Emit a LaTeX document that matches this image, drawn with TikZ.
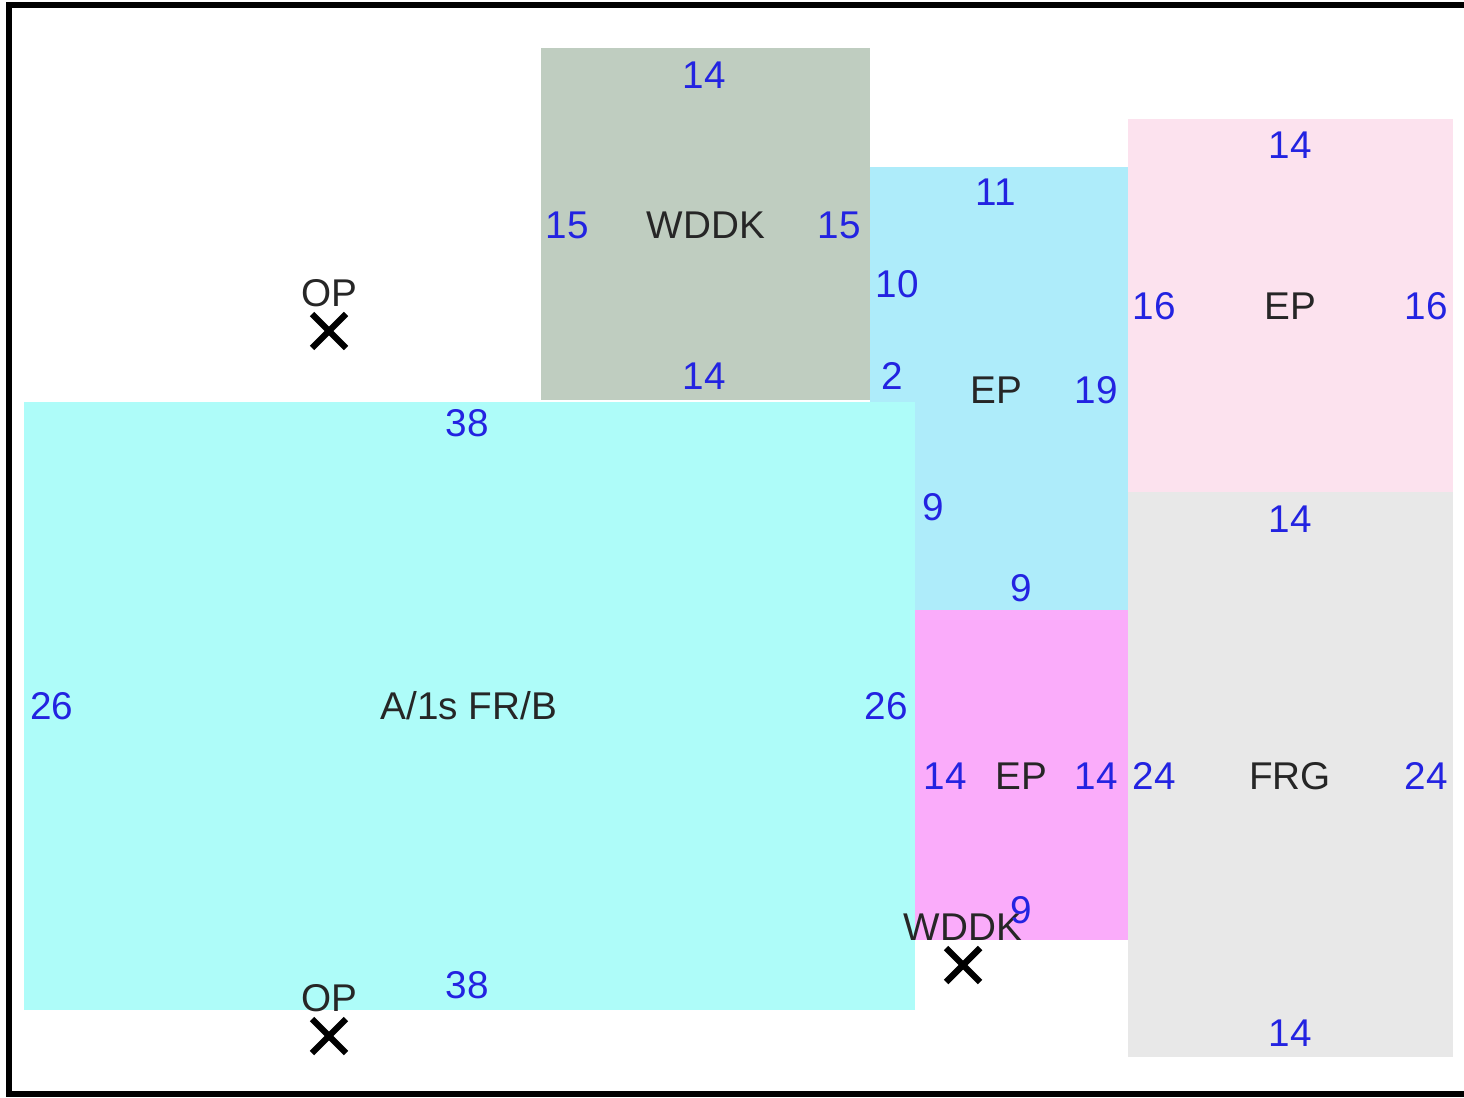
\documentclass[tikz,border=0pt]{standalone}
\usepackage{fontspec}
\setmainfont{Liberation Sans}
\usepackage{tikz}
\usetikzlibrary{positioning}
\definecolor{frbCyan}{RGB}{174,252,249}
\definecolor{wddkG}{RGB}{191,205,192}
\definecolor{epBlue}{RGB}{174,236,250}
\definecolor{epPink}{RGB}{252,226,238}
\definecolor{epMag}{RGB}{250,172,250}
\definecolor{frgGray}{RGB}{232,232,232}
\definecolor{dimBlue}{RGB}{35,35,225}

\begin{document}
\begin{tikzpicture}[x=0.01cm,y=-0.01cm, every node/.style={font=\fontsize{11}{13}\selectfont},
  room/.style={inner sep=0pt, text=black!85},
  dimlbl/.style={text=dimBlue, inner sep=1pt},
  marklbl/.style={text=black!85, inner sep=1pt},
  xmark/.style={line width=1.8pt, black}]
  % canvas: 1 unit = 1 pixel of the plan, y runs downwards
  \useasboundingbox (0,0) rectangle (1464,1097);
  \draw[line width=1.7pt] (1464,5) -- (9,5) -- (9,1094) -- (1464,1094);

  % Rooms (fill, then name in the middle); FR/B lies over the blue EP
  \fill[wddkG]   (541,48) rectangle (870,400);
  \fill[epBlue]  (870,167) rectangle (1128,610);
  \fill[frbCyan] (24,402) rectangle (915,1010);
  \fill[epPink]  (1128,119) rectangle (1453,492);
  \fill[epMag]   (915,610) rectangle (1128,940);
  \fill[frgGray] (1128,492) rectangle (1453,1057);

  \node[room] (frb)  at (469,706)  {A/1s FR/B};
  \node[room] (wddk) at (706,225)  {WDDK};
  \node[room] (epb)  at (996,390)  {EP};
  \node[room] (epp)  at (1290,306) {EP};
  \node[room] (epm)  at (1021,776) {EP};
  \node[room] (frg)  at (1290,776) {FRG};

  % Points: label above a cross
  \foreach \x/\y/\lab [count=\k] in {329/331/OP, 329/1036/OP, 963/965/WDDK} {
    \coordinate (pt\k) at (\x,\y);
    \draw[xmark] (pt\k) ++(-17,-17) -- ++(34,34);
    \draw[xmark] (pt\k) ++(-17,17) -- ++(34,-34);
    \node[marklbl, above=5.8pt of pt\k] (ptl\k) {\lab};
  }

  % Wall lengths
  \foreach \x/\y/\lab [count=\k] in {
      467/423/38, 467/985/38, 52/706/26, 886/706/26,
      704/75/14, 704/376/14, 567/225/15, 839/225/15,
      996/192/11, 897/284/10, 892/376/2, 1096/390/19, 933/507/9, 1021/588/9,
      1290/145/14, 1154/306/16, 1426/306/16,
      945/776/14, 1096/776/14, 1021/910/9,
      1290/519/14, 1290/1033/14, 1154/776/24, 1426/776/24} {
    \node[dimlbl] (d\k) at (\x,\y) {\lab};
  }
\end{tikzpicture}
\end{document}
